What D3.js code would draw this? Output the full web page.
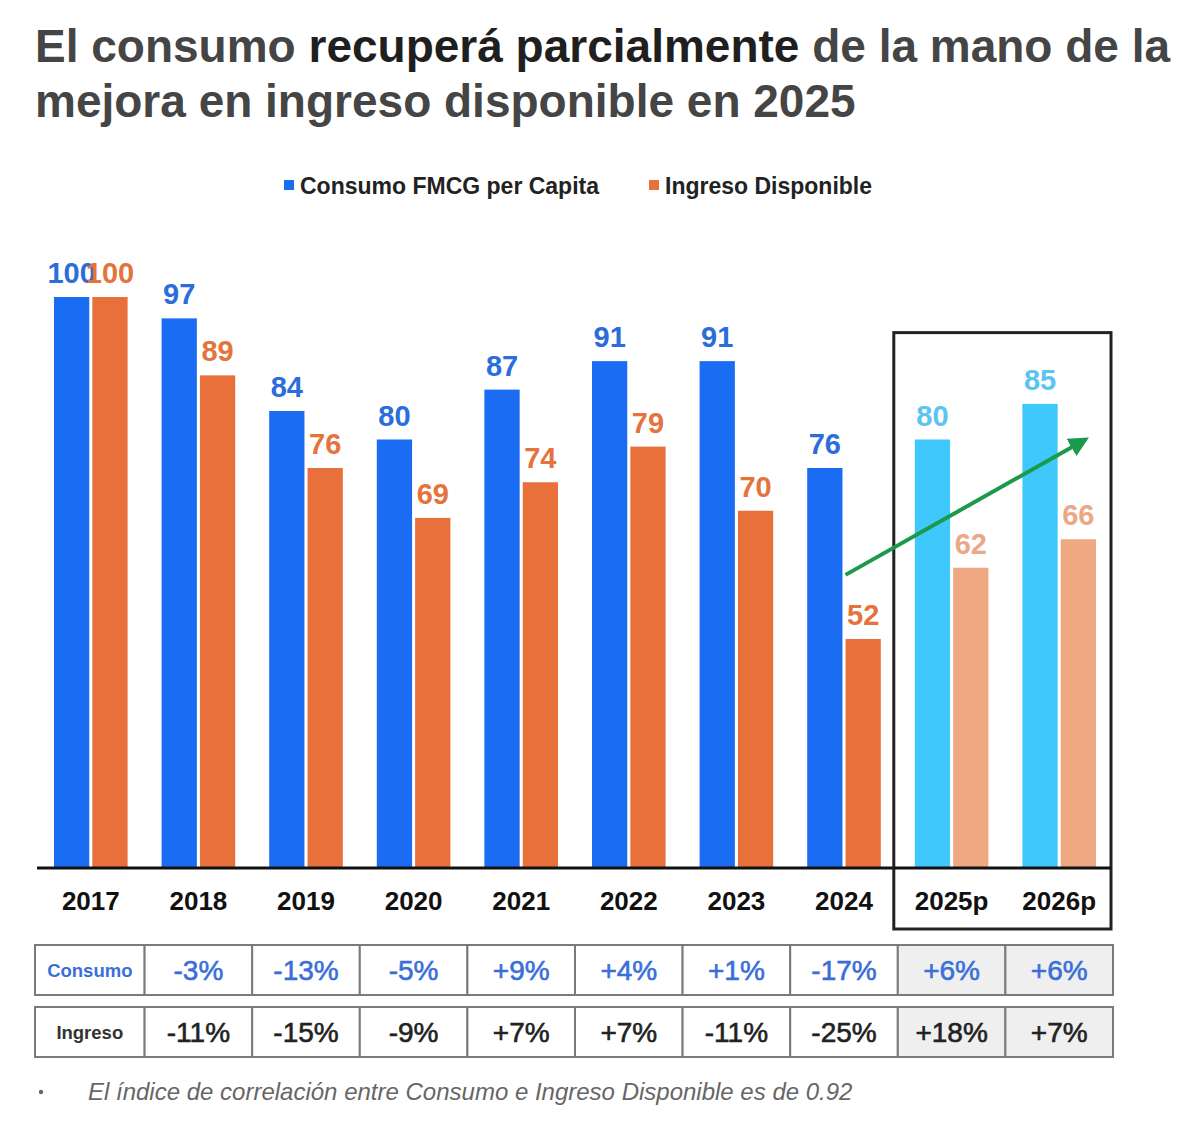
<!DOCTYPE html>
<html>
<head>
<meta charset="utf-8">
<script src="https://cdn.jsdelivr.net/npm/d3@7"></script>
<style>
  body { margin: 0; background: #fff; }
  svg { font-family: "Liberation Sans", Arial, sans-serif; }
</style>
</head>
<body>
<div id="chart"></div>
<script>
const years = ["2017", "2018", "2019", "2020", "2021", "2022", "2023", "2024", "2025p", "2026p"];
const consumo = [100, 97, 84, 80, 87, 91, 91, 76, 80, 85];
const ingreso = [100, 89, 76, 69, 74, 79, 70, 52, 62, 66];
const forecastYears = ["2025p", "2026p"];
const varYears = ["2018", "2019", "2020", "2021", "2022", "2023", "2024", "2025p", "2026p"];
const consumoVar = ["-3%", "-13%", "-5%", "+9%", "+4%", "+1%", "-17%", "+6%", "+6%"];
const ingresoVar = ["-11%", "-15%", "-9%", "+7%", "+7%", "-11%", "-25%", "+18%", "+7%"];
// trend arrow: [year, value] start and end
const arrowFrom = ["2024", 61];
const arrowTo = ["2026p", 80];

const width = 1200;
const height = 1136;

const colors = {
  c: "#1a6cf2", i: "#e8703a",
  cF: "#3ec8fc", iF: "#f0a883",
  cLabel: "#2a6ddb", iLabel: "#e4733d",
  cLabelF: "#5cc4f0", iLabelF: "#eba886"
};

const svg = d3.select("#chart")
  .append("svg")
  .attr("width", width)
  .attr("height", height);

// title
const title = svg.append("g");
const t1 = title.append("text")
  .attr("x", 35).attr("y", 62)
  .attr("font-size", 46).attr("font-weight", "bold").attr("fill", "#454545");
t1.append("tspan").text("El consumo ");
t1.append("tspan").attr("fill", "#1f1f1f").text("recuperá parcialmente");
t1.append("tspan").text(" de la mano de la");
title.append("text")
  .attr("x", 35).attr("y", 117)
  .attr("font-size", 46).attr("font-weight", "bold").attr("fill", "#454545")
  .text("mejora en ingreso disponible en 2025");

// legend
const legend = svg.append("g").attr("font-size", 23).attr("font-weight", "bold").attr("fill", "#222");
[["Consumo FMCG per Capita", colors.c, 284], ["Ingreso Disponible", colors.i, 649]].forEach(([name, col, lx]) => {
  legend.append("rect").attr("x", lx).attr("y", 180).attr("width", 10).attr("height", 10).attr("fill", col);
  legend.append("text").attr("x", lx + 16).attr("y", 194).text(name);
});

// scales
const x = d3.scaleBand().domain(years).range([37, 1113]).padding(0);
const sub = d3.scaleBand().domain(["c", "i"]).range([17, x.bandwidth() - 17]).paddingInner(0.08);
const y = d3.scaleLinear().domain([20, 100]).range([867, 297]);

const isF = d => forecastYears.includes(d);
const rows = years.map((yr, k) => ({ year: yr, c: consumo[k], i: ingreso[k] }));

const bars = svg.append("g");
["c", "i"].forEach(key => {
  bars.selectAll(".bar-" + key)
    .data(rows)
    .join("rect")
    .attr("x", d => x(d.year) + sub(key))
    .attr("width", sub.bandwidth())
    .attr("y", d => y(d[key]))
    .attr("height", d => y(20) - y(d[key]))
    .attr("fill", d => isF(d.year) ? colors[key + "F"] : colors[key]);

  bars.selectAll(".lab-" + key)
    .data(rows)
    .join("text")
    .attr("x", d => x(d.year) + sub(key) + sub.bandwidth() / 2)
    .attr("y", d => y(d[key]) - 14)
    .attr("text-anchor", "middle")
    .attr("font-size", 29)
    .attr("font-weight", "bold")
    .attr("fill", d => isF(d.year) ? colors[key + "LabelF"] : colors[key + "Label"])
    .text(d => d[key]);
});

// baseline
svg.append("line")
  .attr("x1", 37).attr("x2", x("2025p") - 3)
  .attr("y1", y(20) + 1).attr("y2", y(20) + 1)
  .attr("stroke", "#111").attr("stroke-width", 3);

// x labels
svg.append("g").selectAll("text")
  .data(years)
  .join("text")
  .attr("x", d => x(d) + x.bandwidth() / 2)
  .attr("y", 910)
  .attr("text-anchor", "middle")
  .attr("font-size", 26)
  .attr("font-weight", "bold")
  .attr("fill", "#111")
  .text(d => d);

// forecast box
svg.append("rect")
  .attr("x", x("2025p") - 4)
  .attr("y", y(95))
  .attr("width", x.bandwidth() * 2 + 2)
  .attr("height", 929 - y(95))
  .attr("fill", "none")
  .attr("stroke", "#222")
  .attr("stroke-width", 3);

svg.append("line")
  .attr("x1", x("2025p") - 4).attr("x2", x("2026p") + x.bandwidth() - 2)
  .attr("y1", y(20) + 1).attr("y2", y(20) + 1)
  .attr("stroke", "#111").attr("stroke-width", 3);

// arrow
svg.append("defs").append("marker")
  .attr("id", "arrowhead")
  .attr("viewBox", "0 0 10 10")
  .attr("refX", 8).attr("refY", 5)
  .attr("markerWidth", 5).attr("markerHeight", 5)
  .attr("orient", "auto")
  .append("path").attr("d", "M0,0 L10,5 L0,10 z").attr("fill", "#1a9a4a");

svg.append("line")
  .attr("x1", x(arrowFrom[0]) + sub("i"))
  .attr("y1", y(arrowFrom[1]))
  .attr("x2", x(arrowTo[0]) + sub("i") + sub.bandwidth() * 0.7)
  .attr("y2", y(arrowTo[1]))
  .attr("stroke", "#1a9a4a")
  .attr("stroke-width", 4)
  .attr("marker-end", "url(#arrowhead)");

// table
const table = svg.append("g");
const tableRows = [
  { label: "Consumo", vals: consumoVar, top: 945, labelColor: "#3a6fd8", valColor: "#3a6fd8" },
  { label: "Ingreso", vals: ingresoVar, top: 1007, labelColor: "#333", valColor: "#222" }
];
const rowH = 50;
const tx0 = 35;
tableRows.forEach(r => {
  // label cell
  table.append("rect")
    .attr("x", tx0).attr("y", r.top)
    .attr("width", x("2018") - tx0).attr("height", rowH)
    .attr("fill", "#fff").attr("stroke", "#7a7a7a").attr("stroke-width", 2);
  table.append("text")
    .attr("x", (tx0 + x("2018")) / 2).attr("y", r.top + rowH / 2 + 7)
    .attr("text-anchor", "middle")
    .attr("font-size", 18.5).attr("font-weight", "bold")
    .attr("fill", r.labelColor)
    .text(r.label);

  table.selectAll(null)
    .data(varYears.map((yr, k) => ({ yr, v: r.vals[k] })))
    .join("rect")
    .attr("x", d => x(d.yr)).attr("y", r.top)
    .attr("width", x.bandwidth()).attr("height", rowH)
    .attr("fill", d => isF(d.yr) ? "#efefef" : "#fff")
    .attr("stroke", "#7a7a7a").attr("stroke-width", 2);

  table.selectAll(null)
    .data(varYears.map((yr, k) => ({ yr, v: r.vals[k] })))
    .join("text")
    .attr("x", d => x(d.yr) + x.bandwidth() / 2)
    .attr("y", r.top + rowH / 2 + 10)
    .attr("text-anchor", "middle")
    .attr("font-size", 28)
    .attr("fill", r.valColor)
    .attr("stroke", r.valColor)
    .attr("stroke-width", 0.6)
    .text(d => d.v);
});

// footnote
svg.append("circle").attr("cx", 41).attr("cy", 1092).attr("r", 2.2).attr("fill", "#666");
svg.append("text")
  .attr("x", 88).attr("y", 1100)
  .attr("font-size", 24)
  .attr("font-style", "italic")
  .attr("fill", "#666")
  .text("El índice de correlación entre Consumo e Ingreso Disponible es de 0.92");
</script>
</body>
</html>
